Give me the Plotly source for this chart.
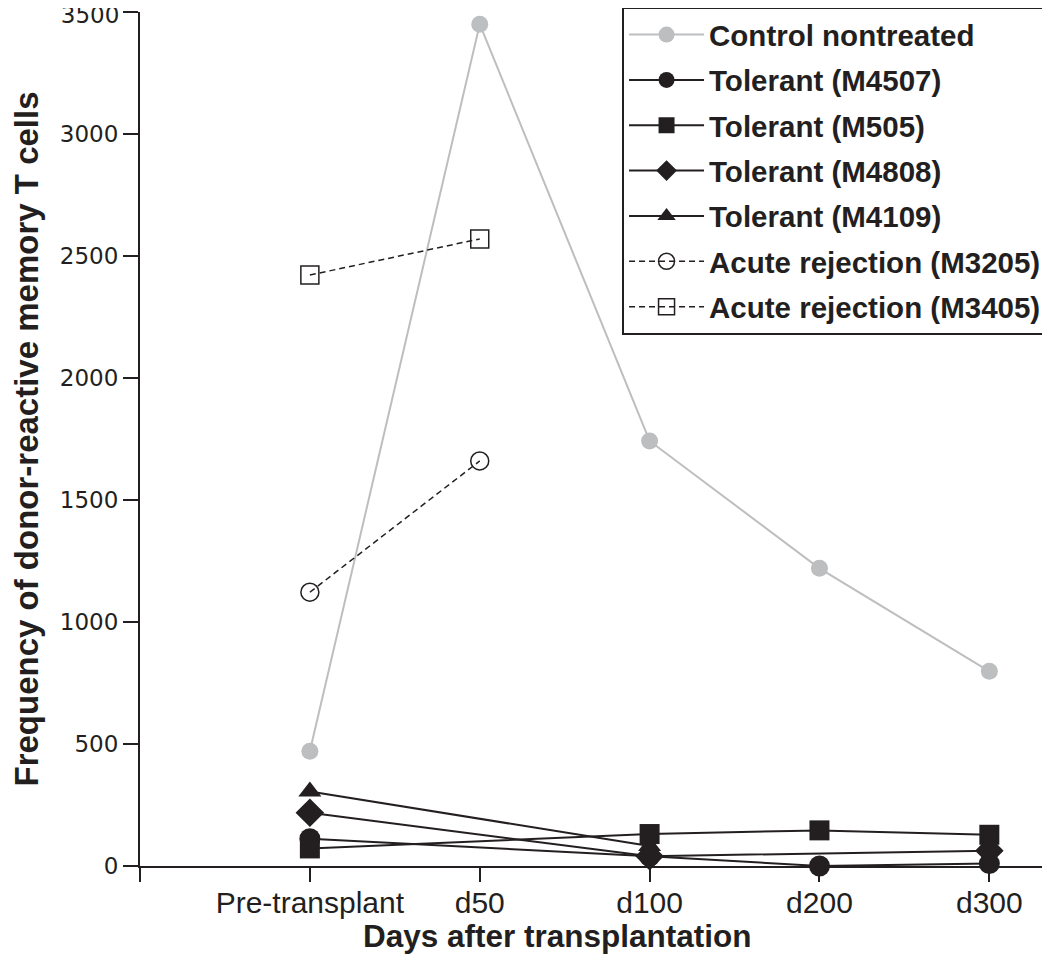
import plotly.graph_objects as go

# ---- data ----
categories = ["Pre-transplant", "d50", "d100", "d200", "d300"]
tick_labels = [""] + categories

control_nontreated = [470, 3450, 1742, 1220, 798]
tolerant_m4507 = [112, None, 40, 0, 10]
tolerant_m505 = [72, None, 131, 146, 128]
tolerant_m4808 = [218, None, 40, None, 63]
tolerant_m4109 = [305, None, 82, None, None]
acute_m3205 = [1122, 1660, None, None, None]
acute_m3405 = [2422, 2570, None, None, None]

y_ticks = [0, 500, 1000, 1500, 2000, 2500, 3000, 3500]
y_range = [0, 3500]

x_pos = [i + 1 for i in range(len(categories))]

BLACK = "#231f20"
GRAY = "#bcbec0"

# name, values, symbol, size, colour, dash, line width, y axis
series = [
    ("Control nontreated", control_nontreated, "circle", 17, GRAY, "solid", 2, "y"),
    ("Tolerant (M4507)", tolerant_m4507, "circle", 21, BLACK, "solid", 2, "y"),
    ("Tolerant (M505)", tolerant_m505, "square", 20, BLACK, "solid", 2, "y"),
    ("Tolerant (M4808)", tolerant_m4808, "diamond", 22, BLACK, "solid", 2, "y"),
    ("Tolerant (M4109)", tolerant_m4109, "triangle-up", 20, BLACK, "solid", 2, "y"),
    ("Acute rejection (M3205)", acute_m3205, "circle-open", 18, BLACK, "6px,4px", 1.5, "y2"),
    ("Acute rejection (M3405)", acute_m3405, "square-open", 18, BLACK, "6px,4px", 1.5, "y2"),
]

fig = go.Figure()
for name, vals, sym, size, color, dash, lw, yax in series:
    fig.add_trace(go.Scatter(
        x=x_pos, y=vals, name=name, legendgroup=name, mode="lines+markers",
        yaxis=yax, connectgaps=True, cliponaxis=False,
        line=dict(color=color, width=lw, dash=dash),
        marker=dict(symbol=sym, size=size, color=color,
                    line=dict(color=color, width=1.5 if "open" in sym else 0)),
    ))

# the top tick label sits right at the page edge; it is drawn by an identical
# overlaid axis so it can be nudged down a few pixels and stay fully visible
top_tick = y_ticks[-1]
main_ticktext = [str(v) if v != top_tick else "" for v in y_ticks]

fig.update_layout(
    width=1034, height=949,
    margin=dict(l=132, r=0, t=4, b=91, autoexpand=False),
    paper_bgcolor="white", plot_bgcolor="white",
    showlegend=True,
    legend=dict(
        x=1.0067, xanchor="right", y=1.006, yanchor="top",
        bgcolor="white", bordercolor=BLACK, borderwidth=2,
        font=dict(family="Liberation Sans", size=29.5, color=BLACK, weight="bold"),
        itemwidth=75, traceorder="grouped", tracegroupgap=4,
        entrywidth=345, entrywidthmode="pixels",
    ),
    xaxis=dict(
        range=[0, 5.31], tickmode="array", automargin=False,
        tickvals=list(range(len(tick_labels))), ticktext=tick_labels,
        showline=True, linecolor=BLACK, linewidth=2,
        ticks="outside", ticklen=14, tickwidth=2, tickcolor=BLACK,
        ticklabelstandoff=-5,
        showgrid=False, zeroline=False,
        tickfont=dict(family="Liberation Sans", size=30, color=BLACK),
    ),
    yaxis=dict(
        range=y_range, tickmode="array", tickvals=y_ticks, ticktext=main_ticktext,
        automargin=False,
        showline=True, linecolor=BLACK, linewidth=2,
        ticks="outside", ticklen=15, tickwidth=2, tickcolor=BLACK,
        showgrid=False, zeroline=False,
        tickfont=dict(family="DejaVu Sans", size=23, color=BLACK),
        title=dict(text="Frequency of donor-reactive memory T cells", standoff=26,
                   font=dict(family="Liberation Sans", size=33, color=BLACK, weight="bold")),
    ),
    yaxis2=dict(
        range=y_range, overlaying="y", side="left", automargin=False,
        tickmode="array", tickvals=[top_tick], ticktext=[str(top_tick)],
        showline=False, showgrid=False, zeroline=False,
        ticks="outside", ticklen=15, tickwidth=2, tickcolor="rgba(0,0,0,0)",
        ticklabelshift=3, ticklabeloverflow="allow",
        tickfont=dict(family="DejaVu Sans", size=23, color=BLACK),
    ),
    annotations=[dict(
        text="Days after transplantation", xref="paper", yref="paper",
        x=0.4634, y=-0.105, xanchor="center", yanchor="bottom", showarrow=False,
        font=dict(family="Liberation Sans", size=31.5, color=BLACK, weight="bold"),
    )],
)

fig.write_html("out.html")
